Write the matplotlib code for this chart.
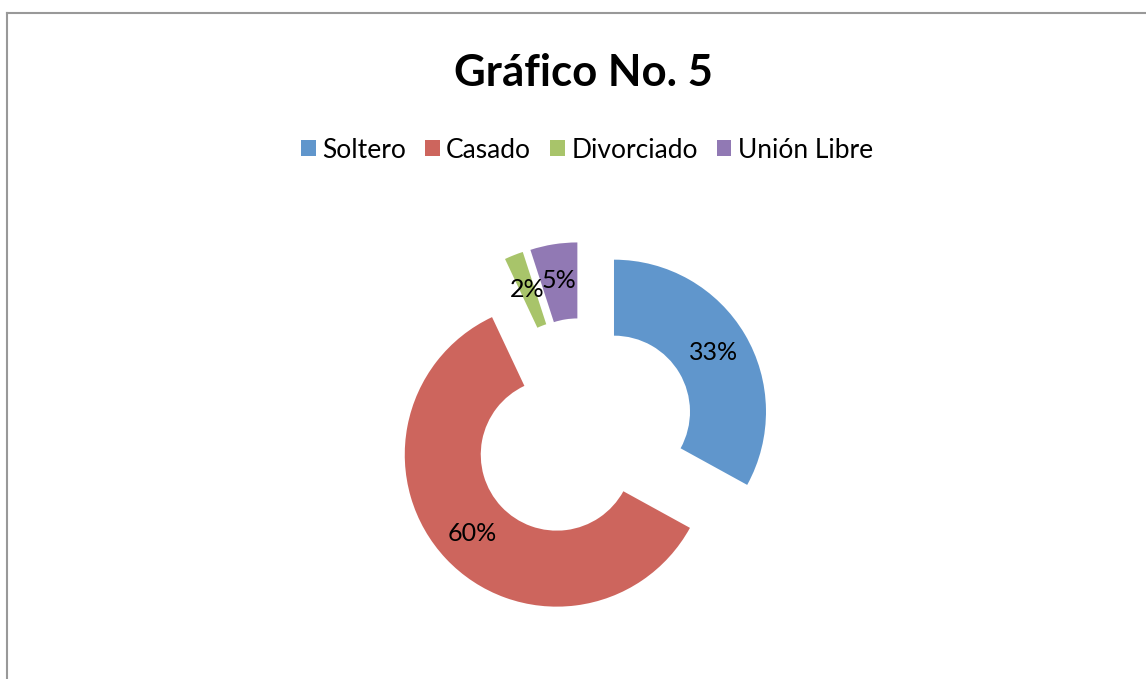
import matplotlib.pyplot as plt
from matplotlib.lines import Line2D
from matplotlib.patches import Patch

plt.rcParams['font.family'] = ['Lato', 'DejaVu Sans']

labels = ['Soltero', 'Casado', 'Divorciado', 'Unión Libre']
values = [33, 60, 2, 5]
colors = ['#6096CC', '#CD655D', '#A8C46A', '#9179B4']

W, H = 1146, 679
fig = plt.figure(figsize=(W / 100, H / 100), dpi=100)
ax = fig.add_axes([0, 0, 1, 1])
ax.set_xlim(0, W)
ax.set_ylim(0, H)
ax.set_aspect('equal')
ax.axis('off')

wedges, texts, autotexts = ax.pie(
    values, colors=colors, startangle=90, counterclock=False,
    center=(583, H - 430), radius=152, explode=[36] * 4,
    wedgeprops=dict(width=76, linewidth=0),
    autopct='%1.0f%%', pctdistance=0.76,
    textprops=dict(fontsize=18, color='black'))
ax.set_xlim(0, W)
ax.set_ylim(0, H)

fig.text(583 / W, 1 - 73 / H, 'Gráfico No. 5', ha='center', va='center',
         fontsize=31.5, fontweight='bold')

handles = [Patch(facecolor=c, edgecolor='none') for c in colors]
fig.legend(handles, labels, loc='center', bbox_to_anchor=(587 / W, 1 - 150 / H),
           ncol=4, frameon=False, fontsize=19, handlelength=0.55, handleheight=0.55,
           handletextpad=0.25, columnspacing=0.72)

# chart area border (only top and left visible)
fig.add_artist(Line2D([7 / W, 1], [1 - 13 / H, 1 - 13 / H], transform=fig.transFigure,
                      color='#999999', lw=1.5))
fig.add_artist(Line2D([7 / W, 7 / W], [0, 1 - 13 / H], transform=fig.transFigure,
                      color='#999999', lw=1.5))

fig.savefig('out.png', dpi=100, facecolor='white')
